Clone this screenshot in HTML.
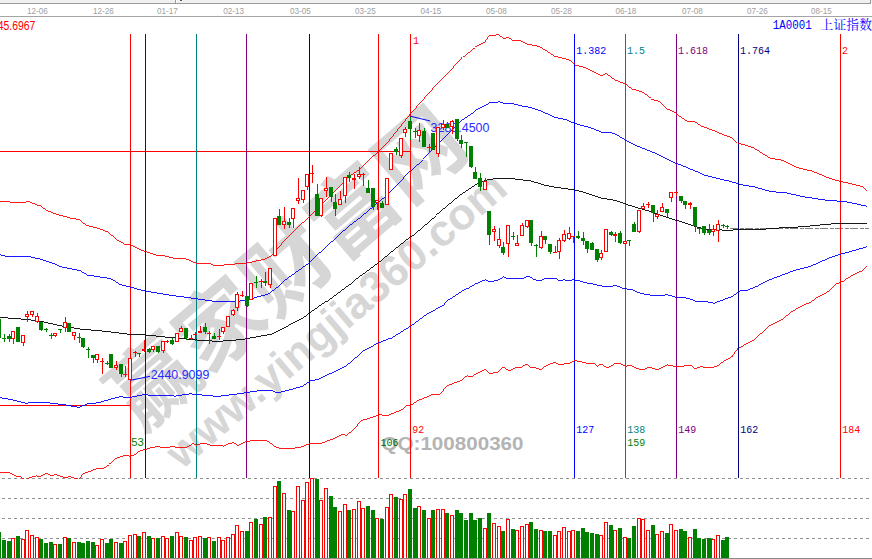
<!DOCTYPE html><html><head><meta charset="utf-8"><title>chart</title>
<style>html,body{margin:0;padding:0;background:#fff;}body{width:872px;height:559px;overflow:hidden;font-family:"Liberation Sans",sans-serif;}svg{display:block;position:absolute;left:0;top:0;}text{font-family:"Liberation Sans",sans-serif;} .m{font-family:"Liberation Mono",monospace;}</style></head><body>
<svg width="872" height="559" viewBox="0 0 872 559">
<rect x="0" y="0" width="872" height="559" fill="#fff"/>
<g fill="#d6d6d6" transform="translate(285.3,266.8) rotate(-40.5)"><text x="-218 -130.5 -43 44.5 132" y="32.68" font-size="86" font-weight="bold" fill="#d6d6d6" style="font-family:'Liberation Sans','Noto Sans CJK SC',sans-serif;">赢家财富网</text></g>
<text x="0" y="0" transform="translate(181.8,470.2) rotate(-40.3)" font-size="44" font-weight="bold" fill="#d6d6d6" textLength="430" lengthAdjust="spacingAndGlyphs">www.yingjia360.com</text>
<text x="381.5" y="449.7" font-size="18.6" font-weight="bold" fill="#b4b4b4" textLength="142" lengthAdjust="spacingAndGlyphs">QQ:100800360</text>
<g shape-rendering="crispEdges">
<rect x="0" y="0" width="872" height="3" fill="#f0f0f0"/>
<rect x="0" y="3" width="871" height="1" fill="#9a9a9a"/>
<rect x="870" y="0" width="1" height="3" fill="#9a9a9a"/>
<rect x="175" y="0" width="1" height="3" fill="#9a9a9a"/><rect x="176" y="0" width="1" height="3" fill="#fff"/>
<rect x="180" y="0" width="2" height="1" fill="#555"/>
<rect x="0" y="16" width="872" height="1" fill="#a4a4a4"/>
</g>
<text x="37.3" y="13.9" font-size="9.8" fill="#a0a0a0" text-anchor="middle" textLength="20.8" lengthAdjust="spacingAndGlyphs">12-06</text>
<text x="103.3" y="13.9" font-size="9.8" fill="#a0a0a0" text-anchor="middle" textLength="20.8" lengthAdjust="spacingAndGlyphs">12-26</text>
<text x="167.3" y="13.9" font-size="9.8" fill="#a0a0a0" text-anchor="middle" textLength="20.8" lengthAdjust="spacingAndGlyphs">01-17</text>
<text x="233.6" y="13.9" font-size="9.8" fill="#a0a0a0" text-anchor="middle" textLength="20.8" lengthAdjust="spacingAndGlyphs">02-13</text>
<text x="300.3" y="13.9" font-size="9.8" fill="#a0a0a0" text-anchor="middle" textLength="20.8" lengthAdjust="spacingAndGlyphs">03-05</text>
<text x="365.3" y="13.9" font-size="9.8" fill="#a0a0a0" text-anchor="middle" textLength="20.8" lengthAdjust="spacingAndGlyphs">03-25</text>
<text x="430.8" y="13.9" font-size="9.8" fill="#a0a0a0" text-anchor="middle" textLength="20.8" lengthAdjust="spacingAndGlyphs">04-15</text>
<text x="496.3" y="13.9" font-size="9.8" fill="#a0a0a0" text-anchor="middle" textLength="20.8" lengthAdjust="spacingAndGlyphs">05-08</text>
<text x="561.3" y="13.9" font-size="9.8" fill="#a0a0a0" text-anchor="middle" textLength="20.8" lengthAdjust="spacingAndGlyphs">05-28</text>
<text x="625.8" y="13.9" font-size="9.8" fill="#a0a0a0" text-anchor="middle" textLength="20.8" lengthAdjust="spacingAndGlyphs">06-18</text>
<text x="692.3" y="13.9" font-size="9.8" fill="#a0a0a0" text-anchor="middle" textLength="20.8" lengthAdjust="spacingAndGlyphs">07-08</text>
<text x="757.3" y="13.9" font-size="9.8" fill="#a0a0a0" text-anchor="middle" textLength="20.8" lengthAdjust="spacingAndGlyphs">07-26</text>
<text x="821.3" y="13.9" font-size="9.8" fill="#a0a0a0" text-anchor="middle" textLength="20.8" lengthAdjust="spacingAndGlyphs">08-15</text>
<text x="35.3" y="29.9" font-size="12" fill="#ff0000" text-anchor="end" textLength="37.5" lengthAdjust="spacingAndGlyphs">45.6967</text>
<g shape-rendering="crispEdges" fill="#8c8c8c">
<path d="M2 478.5H872" stroke="#909090" stroke-width="1" stroke-dasharray="3 3" fill="none"/>
<path d="M2 498.5H872" stroke="#909090" stroke-width="1" stroke-dasharray="3 3" fill="none"/>
<path d="M2 518.5H872" stroke="#909090" stroke-width="1" stroke-dasharray="3 3" fill="none"/>
<path d="M2 538.5H872" stroke="#909090" stroke-width="1" stroke-dasharray="3 3" fill="none"/>
<rect x="0" y="558" width="872" height="1" fill="#8a8a8a"/>
</g>
<g shape-rendering="crispEdges">
<rect x="0" y="151" width="411" height="1" fill="#ff0000"/>
<rect x="0" y="405" width="131" height="1" fill="#ff0000"/>
<path d="M730 228.5H869" stroke="#808080" stroke-width="1" stroke-dasharray="8 1.5 4 1.5" fill="none"/>
</g>
<g shape-rendering="crispEdges">
<rect x="130" y="34" width="1" height="444" fill="#ff0000"/>
<rect x="145" y="34" width="1" height="444" fill="#0000ff"/>
<rect x="196" y="34" width="1" height="444" fill="#008080"/>
<rect x="246" y="34" width="1" height="444" fill="#800080"/>
<rect x="309" y="34" width="1" height="444" fill="#000080"/>
<rect x="378" y="34" width="1" height="444" fill="#ff0000"/>
<rect x="410" y="34" width="1" height="444" fill="#ff0000"/>
<rect x="574" y="34" width="1" height="444" fill="#0000ff"/>
<rect x="625" y="34" width="1" height="444" fill="#008080"/>
<rect x="676" y="34" width="1" height="444" fill="#800080"/>
<rect x="738" y="34" width="1" height="444" fill="#000080"/>
<rect x="840" y="34" width="1" height="444" fill="#ff0000"/>
</g>
<defs><clipPath id="mainclip"><rect x="0" y="17" width="872" height="461.5"/></clipPath></defs>
<polyline transform="translate(0,0.6)" points="0.00,201.00 25.00,202.00 27.50,200.75 37.50,205.00 41.00,205.50 46.00,209.50 56.00,213.50 72.50,218.00 80.00,219.50 86.00,224.50 99.00,228.00 109.00,232.00 116.00,238.75 125.00,243.75 131.00,244.25 140.00,249.00 157.50,255.00 165.00,255.50 175.00,257.75 186.00,258.25 196.00,262.50 210.00,263.00 214.00,265.00 218.00,264.50 233.00,264.25 236.75,262.50 246.75,262.50 264.00,258.75 271.75,255.00 278.00,247.50 285.50,238.75 293.00,231.25 309.00,216.25 318.00,207.50 328.00,197.50 335.50,190.00 343.00,182.50 348.00,176.25 358.00,170.00 363.00,165.00 378.00,151.25 388.00,141.25 410.00,113.75 420.00,102.50 430.00,91.25 440.00,80.00 452.50,67.50 462.50,56.25 475.00,46.25 485.00,41.25 488.75,35.50 497.50,34.25 503.75,38.25 507.50,36.75 512.50,39.50 520.00,40.00 527.50,43.75 540.00,46.25 555.00,55.75 567.50,58.75 575.00,64.50 585.00,66.75 601.25,75.00 606.25,73.00 615.00,79.25 625.00,83.25 632.50,88.75 642.50,92.00 651.25,98.75 658.75,100.50 667.50,108.75 676.25,113.25 687.50,120.75 695.00,121.25 702.50,126.25 715.00,130.75 732.50,137.50 737.50,142.50 754.00,147.50 770.00,157.50 781.50,159.50 796.50,167.00 814.00,171.25 829.00,177.50 840.00,180.75 854.00,183.75 862.75,186.25 866.50,190.00" fill="none" stroke="#ff0000" stroke-width="0.9" shape-rendering="crispEdges"/>
<polyline transform="translate(0,0.6)" points="0.00,254.25 7.50,256.00 30.00,256.25 40.00,258.50 52.50,262.50 59.00,265.75 80.00,270.00 87.50,274.50 111.00,278.25 120.00,283.75 145.00,290.50 170.00,294.50 195.00,298.00 217.50,301.25 235.50,301.25 250.50,298.00 268.00,293.75 278.00,286.25 284.25,280.00 309.00,262.50 318.00,253.75 333.00,240.00 348.00,226.25 358.00,218.75 373.00,206.25 388.00,193.75 410.50,170.00 422.50,158.75 440.00,141.25 452.50,128.75 462.50,118.75 475.00,110.00 485.00,105.00 490.00,102.00 500.00,101.25 505.00,103.25 510.00,102.50 520.00,105.00 530.00,106.75 540.00,110.00 555.00,116.75 565.00,118.75 575.00,123.00 590.00,127.00 602.50,132.00 612.50,132.50 625.00,139.50 635.00,144.50 655.00,152.50 676.50,163.00 704.00,174.50 726.50,180.00 739.00,183.75 754.00,186.25 771.50,191.25 784.00,191.75 804.00,196.25 829.00,200.00 844.00,200.75 866.50,205.50" fill="none" stroke="#0000ff" stroke-width="0.9" shape-rendering="crispEdges"/>
<polyline transform="translate(0,0.6)" points="0.00,316.75 25.00,318.75 40.00,320.50 60.00,325.00 82.50,328.75 110.00,331.25 130.00,333.75 145.00,334.25 170.00,337.00 195.00,339.25 217.50,340.75 243.00,338.75 270.50,333.75 288.00,325.00 303.00,317.50 309.25,312.50 325.50,301.25 340.50,290.00 354.25,280.00 378.00,262.50 393.00,250.00 410.50,236.25 436.00,214.50 446.00,206.25 461.00,193.75 476.00,183.75 486.00,179.50 498.50,177.50 511.00,178.00 528.50,180.00 541.00,183.75 556.00,186.75 573.50,189.25 586.00,192.50 601.00,197.50 613.50,199.50 626.00,203.75 638.50,207.50 654.00,212.50 669.00,217.50 676.50,220.00 694.00,225.75 709.00,229.25 729.00,229.50 761.50,228.75 776.50,227.50 804.00,226.00 829.00,223.50 854.00,222.50 867.00,222.50" fill="none" stroke="#000000" stroke-width="0.9" shape-rendering="crispEdges"/>
<polyline transform="translate(0,0.6)" points="0.00,397.00 10.00,398.75 25.00,402.50 45.00,401.75 65.00,404.25 78.75,406.75 87.50,403.25 100.00,401.75 110.00,398.75 120.00,396.25 130.00,396.75 142.50,394.25 162.50,395.00 175.00,395.50 190.00,393.25 200.00,394.25 217.50,395.75 243.00,392.50 263.00,389.50 270.50,389.50 276.75,392.50 284.25,390.75 300.50,386.25 309.25,380.50 318.00,378.75 330.50,372.50 345.50,365.00 361.75,351.25 378.00,342.50 390.50,337.50 410.50,325.00 425.50,313.75 436.00,308.25 443.50,304.50 448.50,298.75 463.50,288.75 470.00,286.60 475.50,283.20 479.60,281.50 485.10,279.20 490.00,281.50 498.20,279.40 503.70,276.30 507.80,278.30 511.30,277.40 524.30,277.40 526.40,276.30 528.50,276.30 533.30,278.80 540.20,280.40 544.30,278.30 556.70,278.30 560.10,280.40 563.50,279.20 569.00,280.40 572.50,279.20 580.00,280.40 586.90,282.50 591.00,283.00 606.00,286.25 616.00,285.00 624.75,288.25 631.00,288.75 641.00,293.00 654.00,295.00 667.75,294.25 676.50,296.75 686.50,297.50 695.25,300.50 707.75,301.25 713.50,302.50 721.50,299.50 731.50,295.75 739.00,290.50 746.50,289.50 759.00,284.50 768.00,279.75 794.00,270.00 809.00,266.25 829.00,257.50 840.00,253.75 854.00,250.00 866.50,246.25" fill="none" stroke="#0000ff" stroke-width="0.9" shape-rendering="crispEdges"/>
<polyline transform="translate(0,0.6)" points="0.00,472.25 10.00,472.25 15.00,475.25 21.25,476.50 23.75,478.50 27.00,478.50 31.25,476.50 36.25,475.25 40.00,476.00 46.25,472.75 51.25,475.25 55.00,474.00 60.00,475.25 65.00,477.25 70.00,476.00 75.00,477.75 78.75,478.50 83.75,472.75 90.00,470.75 96.25,468.25 102.50,467.75 108.75,464.00 116.25,457.75 125.00,454.50 130.00,455.75 135.00,454.00 140.00,450.25 145.00,449.00 150.00,447.25 157.50,446.00 162.50,447.25 172.50,446.00 177.50,447.25 186.25,447.00 192.50,443.25 196.25,444.50 200.00,443.25 206.25,443.25 211.25,444.75 217.50,444.50 222.50,445.50 227.50,443.00 233.75,442.00 237.50,444.50 246.25,440.50 266.25,440.00 271.25,443.00 276.25,447.00 285.00,448.25 300.00,447.00 310.00,443.00 317.50,443.25 325.00,441.25 335.00,437.50 342.50,433.75 346.25,435.00 353.75,428.75 361.25,420.00 370.00,417.50 380.00,413.75 386.25,415.50 402.50,408.75 406.25,405.00 411.25,404.50 418.00,400.00 431.75,394.25 436.00,394.25 439.75,393.75 447.25,385.00 461.00,380.00 467.25,375.00 471.00,376.25 484.75,368.75 489.75,373.00 498.50,371.25 503.00,366.25 508.50,370.00 513.50,367.50 521.00,366.75 527.25,363.25 531.00,367.00 537.25,367.50 541.00,369.25 546.00,365.00 554.75,361.75 559.75,364.25 568.50,362.50 573.50,360.00 586.00,362.50 593.50,363.25 597.25,365.75 601.00,363.25 607.25,367.50 614.75,363.25 621.00,363.25 625.50,365.50 629.75,364.50 636.00,367.50 642.25,369.25 648.50,367.00 654.00,368.00 657.75,369.25 667.75,364.25 676.50,366.25 690.25,364.50 695.25,368.00 700.25,366.25 712.75,367.00 717.75,365.00 726.50,358.75 732.75,355.00 738.50,347.00 755.25,338.25 769.00,325.50 782.75,318.75 790.25,312.00 797.75,307.50 806.50,303.25 814.00,298.75 829.00,290.50 836.50,283.25 844.00,279.75 854.00,273.75 862.75,270.00 866.50,265.75" fill="none" stroke="#ff0000" stroke-width="0.9" shape-rendering="crispEdges" clip-path="url(#mainclip)"/>
<polyline points="410.4,116.2 430.2,121" fill="none" stroke="#0000ff" stroke-width="1"/>
<polyline points="130.5,380.3 150,376.3" fill="none" stroke="#0000ff" stroke-width="1"/>
<text x="430.6" y="131.8" font-size="12" fill="#2a2aff" textLength="58.8" lengthAdjust="spacingAndGlyphs">3288.4500</text>
<text x="150.7" y="378.9" font-size="12" fill="#2a2aff" textLength="58.6" lengthAdjust="spacingAndGlyphs">2440.9099</text>
<g shape-rendering="crispEdges">
<rect x="-1" y="319" width="1" height="19" fill="#008000"/>
<rect x="-3" y="319" width="4" height="19" fill="#008000"/>
<rect x="4" y="334" width="1" height="8" fill="#008000"/>
<rect x="2" y="338" width="4" height="1" fill="#008000"/>
<rect x="9" y="334" width="1" height="8" fill="#008000"/>
<rect x="7" y="336" width="4" height="3" fill="#008000"/>
<rect x="13" y="331" width="1" height="13" fill="#ff0000"/>
<rect x="11" y="331" width="4" height="8" fill="#ff0000"/>
<rect x="12" y="332" width="2" height="6" fill="#fff"/>
<rect x="18" y="327" width="1" height="15" fill="#008000"/>
<rect x="16" y="327" width="4" height="15" fill="#008000"/>
<rect x="23" y="335" width="1" height="11" fill="#ff0000"/>
<rect x="21" y="335" width="4" height="8" fill="#ff0000"/>
<rect x="22" y="336" width="2" height="6" fill="#fff"/>
<rect x="27" y="311" width="1" height="11" fill="#ff0000"/>
<rect x="25" y="314" width="4" height="3" fill="#ff0000"/>
<rect x="26" y="315" width="2" height="1" fill="#fff"/>
<rect x="32" y="311" width="1" height="6" fill="#ff0000"/>
<rect x="30" y="311" width="4" height="4" fill="#ff0000"/>
<rect x="31" y="312" width="2" height="2" fill="#fff"/>
<rect x="37" y="313" width="1" height="10" fill="#ff0000"/>
<rect x="35" y="316" width="4" height="6" fill="#ff0000"/>
<rect x="36" y="317" width="2" height="4" fill="#fff"/>
<rect x="41" y="322" width="1" height="9" fill="#008000"/>
<rect x="39" y="322" width="4" height="8" fill="#008000"/>
<rect x="46" y="328" width="1" height="4" fill="#008000"/>
<rect x="44" y="329" width="4" height="1" fill="#008000"/>
<rect x="51" y="333" width="1" height="6" fill="#008000"/>
<rect x="49" y="335" width="4" height="1" fill="#008000"/>
<rect x="55" y="333" width="1" height="4" fill="#ff0000"/>
<rect x="53" y="333" width="4" height="3" fill="#ff0000"/>
<rect x="54" y="334" width="2" height="1" fill="#fff"/>
<rect x="60" y="329" width="1" height="4" fill="#008000"/>
<rect x="58" y="329" width="4" height="1" fill="#008000"/>
<rect x="65" y="317" width="1" height="15" fill="#ff0000"/>
<rect x="63" y="322" width="4" height="6" fill="#ff0000"/>
<rect x="64" y="323" width="2" height="4" fill="#fff"/>
<rect x="69" y="323" width="1" height="9" fill="#008000"/>
<rect x="67" y="323" width="4" height="9" fill="#008000"/>
<rect x="74" y="332" width="1" height="8" fill="#ff0000"/>
<rect x="72" y="332" width="4" height="4" fill="#ff0000"/>
<rect x="73" y="333" width="2" height="2" fill="#fff"/>
<rect x="79" y="333" width="1" height="10" fill="#008000"/>
<rect x="77" y="337" width="4" height="1" fill="#008000"/>
<rect x="83" y="338" width="1" height="10" fill="#008000"/>
<rect x="81" y="338" width="4" height="9" fill="#008000"/>
<rect x="88" y="347" width="1" height="11" fill="#008000"/>
<rect x="86" y="349" width="4" height="1" fill="#008000"/>
<rect x="93" y="355" width="1" height="8" fill="#008000"/>
<rect x="91" y="355" width="4" height="3" fill="#008000"/>
<rect x="97" y="354" width="1" height="9" fill="#ff0000"/>
<rect x="95" y="354" width="4" height="6" fill="#ff0000"/>
<rect x="96" y="355" width="2" height="4" fill="#fff"/>
<rect x="102" y="358" width="1" height="16" fill="#ff0000"/>
<rect x="100" y="361" width="4" height="1" fill="#ff0000"/>
<rect x="107" y="361" width="1" height="4" fill="#008000"/>
<rect x="105" y="363" width="4" height="1" fill="#008000"/>
<rect x="111" y="354" width="1" height="14" fill="#008000"/>
<rect x="109" y="354" width="4" height="14" fill="#008000"/>
<rect x="116" y="361" width="1" height="9" fill="#ff0000"/>
<rect x="114" y="365" width="4" height="3" fill="#ff0000"/>
<rect x="115" y="366" width="2" height="1" fill="#fff"/>
<rect x="121" y="364" width="1" height="13" fill="#008000"/>
<rect x="119" y="364" width="4" height="10" fill="#008000"/>
<rect x="125" y="366" width="1" height="11" fill="#ff0000"/>
<rect x="123" y="374" width="4" height="1" fill="#ff0000"/>
<rect x="130" y="358" width="1" height="22" fill="#ff0000"/>
<rect x="128" y="358" width="4" height="22" fill="#ff0000"/>
<rect x="129" y="359" width="2" height="20" fill="#fff"/>
<rect x="135" y="351" width="1" height="6" fill="#ff0000"/>
<rect x="133" y="352" width="4" height="1" fill="#ff0000"/>
<rect x="139" y="353" width="1" height="4" fill="#008000"/>
<rect x="137" y="353" width="4" height="1" fill="#008000"/>
<rect x="144" y="340" width="1" height="12" fill="#ff0000"/>
<rect x="142" y="349" width="4" height="2" fill="#ff0000"/>
<rect x="149" y="348" width="1" height="5" fill="#008000"/>
<rect x="147" y="349" width="4" height="3" fill="#008000"/>
<rect x="153" y="346" width="1" height="6" fill="#ff0000"/>
<rect x="151" y="346" width="4" height="4" fill="#ff0000"/>
<rect x="152" y="347" width="2" height="2" fill="#fff"/>
<rect x="158" y="346" width="1" height="7" fill="#008000"/>
<rect x="156" y="346" width="4" height="6" fill="#008000"/>
<rect x="163" y="341" width="1" height="12" fill="#ff0000"/>
<rect x="161" y="341" width="4" height="10" fill="#ff0000"/>
<rect x="162" y="342" width="2" height="8" fill="#fff"/>
<rect x="167" y="340" width="1" height="3" fill="#ff0000"/>
<rect x="165" y="341" width="4" height="1" fill="#ff0000"/>
<rect x="172" y="338" width="1" height="7" fill="#008000"/>
<rect x="170" y="340" width="4" height="4" fill="#008000"/>
<rect x="177" y="333" width="1" height="9" fill="#ff0000"/>
<rect x="175" y="333" width="4" height="9" fill="#ff0000"/>
<rect x="176" y="334" width="2" height="7" fill="#fff"/>
<rect x="181" y="326" width="1" height="6" fill="#ff0000"/>
<rect x="179" y="328" width="4" height="4" fill="#ff0000"/>
<rect x="180" y="329" width="2" height="2" fill="#fff"/>
<rect x="186" y="328" width="1" height="12" fill="#008000"/>
<rect x="184" y="328" width="4" height="10" fill="#008000"/>
<rect x="191" y="335" width="1" height="5" fill="#ff0000"/>
<rect x="189" y="338" width="4" height="1" fill="#ff0000"/>
<rect x="195" y="332" width="1" height="9" fill="#ff0000"/>
<rect x="193" y="334" width="4" height="1" fill="#ff0000"/>
<rect x="200" y="326" width="1" height="7" fill="#ff0000"/>
<rect x="198" y="331" width="4" height="2" fill="#ff0000"/>
<rect x="205" y="323" width="1" height="11" fill="#008000"/>
<rect x="203" y="327" width="4" height="5" fill="#008000"/>
<rect x="209" y="331" width="1" height="13" fill="#ff0000"/>
<rect x="207" y="333" width="4" height="1" fill="#ff0000"/>
<rect x="214" y="333" width="1" height="6" fill="#008000"/>
<rect x="212" y="336" width="4" height="3" fill="#008000"/>
<rect x="219" y="329" width="1" height="11" fill="#ff0000"/>
<rect x="217" y="336" width="4" height="1" fill="#ff0000"/>
<rect x="223" y="327" width="1" height="7" fill="#ff0000"/>
<rect x="221" y="327" width="4" height="5" fill="#ff0000"/>
<rect x="222" y="328" width="2" height="3" fill="#fff"/>
<rect x="228" y="316" width="1" height="11" fill="#ff0000"/>
<rect x="226" y="316" width="4" height="11" fill="#ff0000"/>
<rect x="227" y="317" width="2" height="9" fill="#fff"/>
<rect x="233" y="309" width="1" height="7" fill="#ff0000"/>
<rect x="231" y="310" width="4" height="5" fill="#ff0000"/>
<rect x="232" y="311" width="2" height="3" fill="#fff"/>
<rect x="237" y="292" width="1" height="19" fill="#ff0000"/>
<rect x="235" y="294" width="4" height="14" fill="#ff0000"/>
<rect x="236" y="295" width="2" height="12" fill="#fff"/>
<rect x="242" y="291" width="1" height="6" fill="#ff0000"/>
<rect x="240" y="295" width="4" height="1" fill="#ff0000"/>
<rect x="247" y="296" width="1" height="11" fill="#008000"/>
<rect x="245" y="296" width="4" height="10" fill="#008000"/>
<rect x="251" y="283" width="1" height="17" fill="#ff0000"/>
<rect x="249" y="283" width="4" height="17" fill="#ff0000"/>
<rect x="250" y="284" width="2" height="15" fill="#fff"/>
<rect x="256" y="276" width="1" height="12" fill="#008000"/>
<rect x="254" y="282" width="4" height="1" fill="#008000"/>
<rect x="261" y="279" width="1" height="9" fill="#ff0000"/>
<rect x="259" y="281" width="4" height="1" fill="#ff0000"/>
<rect x="265" y="272" width="1" height="14" fill="#008000"/>
<rect x="263" y="281" width="4" height="2" fill="#008000"/>
<rect x="270" y="268" width="1" height="20" fill="#ff0000"/>
<rect x="268" y="268" width="4" height="17" fill="#ff0000"/>
<rect x="269" y="269" width="2" height="15" fill="#fff"/>
<rect x="275" y="218" width="1" height="38" fill="#ff0000"/>
<rect x="273" y="218" width="4" height="38" fill="#ff0000"/>
<rect x="274" y="219" width="2" height="36" fill="#fff"/>
<rect x="279" y="209" width="1" height="16" fill="#008000"/>
<rect x="277" y="216" width="4" height="9" fill="#008000"/>
<rect x="284" y="207" width="1" height="22" fill="#ff0000"/>
<rect x="282" y="221" width="4" height="4" fill="#ff0000"/>
<rect x="283" y="222" width="2" height="2" fill="#fff"/>
<rect x="289" y="218" width="1" height="10" fill="#008000"/>
<rect x="287" y="222" width="4" height="3" fill="#008000"/>
<rect x="293" y="208" width="1" height="20" fill="#ff0000"/>
<rect x="291" y="208" width="4" height="11" fill="#ff0000"/>
<rect x="292" y="209" width="2" height="9" fill="#fff"/>
<rect x="298" y="178" width="1" height="26" fill="#ff0000"/>
<rect x="296" y="198" width="4" height="3" fill="#ff0000"/>
<rect x="297" y="199" width="2" height="1" fill="#fff"/>
<rect x="303" y="190" width="1" height="13" fill="#ff0000"/>
<rect x="301" y="190" width="4" height="10" fill="#ff0000"/>
<rect x="302" y="191" width="2" height="8" fill="#fff"/>
<rect x="307" y="174" width="1" height="16" fill="#ff0000"/>
<rect x="305" y="174" width="4" height="13" fill="#ff0000"/>
<rect x="306" y="175" width="2" height="11" fill="#fff"/>
<rect x="312" y="165" width="1" height="18" fill="#ff0000"/>
<rect x="310" y="173" width="4" height="1" fill="#ff0000"/>
<rect x="317" y="184" width="1" height="32" fill="#008000"/>
<rect x="315" y="194" width="4" height="22" fill="#008000"/>
<rect x="321" y="198" width="1" height="19" fill="#ff0000"/>
<rect x="319" y="198" width="4" height="18" fill="#ff0000"/>
<rect x="320" y="199" width="2" height="16" fill="#fff"/>
<rect x="326" y="177" width="1" height="20" fill="#ff0000"/>
<rect x="324" y="188" width="4" height="3" fill="#ff0000"/>
<rect x="325" y="189" width="2" height="1" fill="#fff"/>
<rect x="331" y="187" width="1" height="15" fill="#008000"/>
<rect x="329" y="187" width="4" height="10" fill="#008000"/>
<rect x="335" y="194" width="1" height="22" fill="#008000"/>
<rect x="333" y="202" width="4" height="7" fill="#008000"/>
<rect x="340" y="191" width="1" height="14" fill="#ff0000"/>
<rect x="338" y="199" width="4" height="6" fill="#ff0000"/>
<rect x="339" y="200" width="2" height="4" fill="#fff"/>
<rect x="345" y="177" width="1" height="26" fill="#ff0000"/>
<rect x="343" y="177" width="4" height="19" fill="#ff0000"/>
<rect x="344" y="178" width="2" height="17" fill="#fff"/>
<rect x="349" y="172" width="1" height="10" fill="#008000"/>
<rect x="347" y="175" width="4" height="3" fill="#008000"/>
<rect x="354" y="174" width="1" height="15" fill="#ff0000"/>
<rect x="352" y="178" width="4" height="2" fill="#ff0000"/>
<rect x="359" y="167" width="1" height="12" fill="#ff0000"/>
<rect x="357" y="174" width="4" height="3" fill="#ff0000"/>
<rect x="358" y="175" width="2" height="1" fill="#fff"/>
<rect x="363" y="173" width="1" height="13" fill="#ff0000"/>
<rect x="361" y="174" width="4" height="1" fill="#ff0000"/>
<rect x="368" y="180" width="1" height="13" fill="#008000"/>
<rect x="366" y="188" width="4" height="5" fill="#008000"/>
<rect x="373" y="188" width="1" height="22" fill="#008000"/>
<rect x="371" y="188" width="4" height="19" fill="#008000"/>
<rect x="377" y="200" width="1" height="10" fill="#ff0000"/>
<rect x="375" y="200" width="4" height="3" fill="#ff0000"/>
<rect x="376" y="201" width="2" height="1" fill="#fff"/>
<rect x="382" y="201" width="1" height="7" fill="#008000"/>
<rect x="380" y="203" width="4" height="5" fill="#008000"/>
<rect x="387" y="178" width="1" height="27" fill="#ff0000"/>
<rect x="385" y="178" width="4" height="27" fill="#ff0000"/>
<rect x="386" y="179" width="2" height="25" fill="#fff"/>
<rect x="391" y="153" width="1" height="17" fill="#ff0000"/>
<rect x="389" y="153" width="4" height="17" fill="#ff0000"/>
<rect x="390" y="154" width="2" height="15" fill="#fff"/>
<rect x="396" y="147" width="1" height="8" fill="#008000"/>
<rect x="394" y="149" width="4" height="3" fill="#008000"/>
<rect x="401" y="138" width="1" height="20" fill="#ff0000"/>
<rect x="399" y="138" width="4" height="18" fill="#ff0000"/>
<rect x="400" y="139" width="2" height="16" fill="#fff"/>
<rect x="405" y="127" width="1" height="10" fill="#ff0000"/>
<rect x="403" y="129" width="4" height="4" fill="#ff0000"/>
<rect x="404" y="130" width="2" height="2" fill="#fff"/>
<rect x="410" y="117" width="1" height="23" fill="#008000"/>
<rect x="408" y="121" width="4" height="8" fill="#008000"/>
<rect x="415" y="128" width="1" height="10" fill="#008000"/>
<rect x="413" y="131" width="4" height="1" fill="#008000"/>
<rect x="419" y="123" width="1" height="19" fill="#ff0000"/>
<rect x="417" y="130" width="4" height="6" fill="#ff0000"/>
<rect x="418" y="131" width="2" height="4" fill="#fff"/>
<rect x="424" y="128" width="1" height="19" fill="#008000"/>
<rect x="422" y="131" width="4" height="16" fill="#008000"/>
<rect x="429" y="144" width="1" height="9" fill="#ff0000"/>
<rect x="427" y="147" width="4" height="1" fill="#ff0000"/>
<rect x="433" y="133" width="1" height="17" fill="#008000"/>
<rect x="431" y="133" width="4" height="17" fill="#008000"/>
<rect x="438" y="127" width="1" height="30" fill="#ff0000"/>
<rect x="436" y="127" width="4" height="27" fill="#ff0000"/>
<rect x="437" y="128" width="2" height="25" fill="#fff"/>
<rect x="443" y="120" width="1" height="10" fill="#ff0000"/>
<rect x="441" y="124" width="4" height="4" fill="#ff0000"/>
<rect x="442" y="125" width="2" height="2" fill="#fff"/>
<rect x="447" y="122" width="1" height="6" fill="#008000"/>
<rect x="445" y="124" width="4" height="4" fill="#008000"/>
<rect x="452" y="120" width="1" height="14" fill="#ff0000"/>
<rect x="450" y="121" width="4" height="6" fill="#ff0000"/>
<rect x="451" y="122" width="2" height="4" fill="#fff"/>
<rect x="457" y="119" width="1" height="22" fill="#008000"/>
<rect x="455" y="119" width="4" height="20" fill="#008000"/>
<rect x="461" y="135" width="1" height="13" fill="#008000"/>
<rect x="459" y="140" width="4" height="4" fill="#008000"/>
<rect x="466" y="142" width="1" height="15" fill="#008000"/>
<rect x="464" y="142" width="4" height="1" fill="#008000"/>
<rect x="471" y="146" width="1" height="22" fill="#008000"/>
<rect x="469" y="146" width="4" height="21" fill="#008000"/>
<rect x="475" y="167" width="1" height="12" fill="#008000"/>
<rect x="473" y="172" width="4" height="7" fill="#008000"/>
<rect x="480" y="173" width="1" height="18" fill="#008000"/>
<rect x="478" y="178" width="4" height="9" fill="#008000"/>
<rect x="485" y="178" width="1" height="12" fill="#ff0000"/>
<rect x="483" y="181" width="4" height="9" fill="#ff0000"/>
<rect x="484" y="182" width="2" height="7" fill="#fff"/>
<rect x="489" y="211" width="1" height="34" fill="#008000"/>
<rect x="487" y="211" width="4" height="24" fill="#008000"/>
<rect x="494" y="226" width="1" height="15" fill="#ff0000"/>
<rect x="492" y="229" width="4" height="3" fill="#ff0000"/>
<rect x="493" y="230" width="2" height="1" fill="#fff"/>
<rect x="499" y="228" width="1" height="20" fill="#ff0000"/>
<rect x="497" y="239" width="4" height="7" fill="#ff0000"/>
<rect x="498" y="240" width="2" height="5" fill="#fff"/>
<rect x="503" y="242" width="1" height="13" fill="#008000"/>
<rect x="501" y="247" width="4" height="6" fill="#008000"/>
<rect x="508" y="225" width="1" height="32" fill="#ff0000"/>
<rect x="506" y="225" width="4" height="19" fill="#ff0000"/>
<rect x="507" y="226" width="2" height="17" fill="#fff"/>
<rect x="513" y="232" width="1" height="8" fill="#008000"/>
<rect x="511" y="236" width="4" height="1" fill="#008000"/>
<rect x="517" y="235" width="1" height="11" fill="#ff0000"/>
<rect x="515" y="243" width="4" height="3" fill="#ff0000"/>
<rect x="516" y="244" width="2" height="1" fill="#fff"/>
<rect x="522" y="223" width="1" height="13" fill="#ff0000"/>
<rect x="520" y="225" width="4" height="11" fill="#ff0000"/>
<rect x="521" y="226" width="2" height="9" fill="#fff"/>
<rect x="527" y="220" width="1" height="8" fill="#ff0000"/>
<rect x="525" y="220" width="4" height="7" fill="#ff0000"/>
<rect x="526" y="221" width="2" height="5" fill="#fff"/>
<rect x="531" y="220" width="1" height="26" fill="#008000"/>
<rect x="529" y="220" width="4" height="23" fill="#008000"/>
<rect x="536" y="244" width="1" height="13" fill="#008000"/>
<rect x="534" y="245" width="4" height="1" fill="#008000"/>
<rect x="541" y="231" width="1" height="18" fill="#ff0000"/>
<rect x="539" y="236" width="4" height="12" fill="#ff0000"/>
<rect x="540" y="237" width="2" height="10" fill="#fff"/>
<rect x="545" y="236" width="1" height="8" fill="#008000"/>
<rect x="543" y="236" width="4" height="4" fill="#008000"/>
<rect x="550" y="244" width="1" height="10" fill="#008000"/>
<rect x="548" y="244" width="4" height="8" fill="#008000"/>
<rect x="555" y="246" width="1" height="7" fill="#ff0000"/>
<rect x="553" y="252" width="4" height="1" fill="#ff0000"/>
<rect x="559" y="238" width="1" height="21" fill="#ff0000"/>
<rect x="557" y="240" width="4" height="12" fill="#ff0000"/>
<rect x="558" y="241" width="2" height="10" fill="#fff"/>
<rect x="564" y="230" width="1" height="12" fill="#ff0000"/>
<rect x="562" y="234" width="4" height="7" fill="#ff0000"/>
<rect x="563" y="235" width="2" height="5" fill="#fff"/>
<rect x="569" y="227" width="1" height="13" fill="#ff0000"/>
<rect x="567" y="233" width="4" height="6" fill="#ff0000"/>
<rect x="568" y="234" width="2" height="4" fill="#fff"/>
<rect x="573" y="236" width="1" height="7" fill="#ff0000"/>
<rect x="571" y="236" width="4" height="1" fill="#ff0000"/>
<rect x="578" y="231" width="1" height="8" fill="#008000"/>
<rect x="576" y="236" width="4" height="2" fill="#008000"/>
<rect x="583" y="232" width="1" height="13" fill="#008000"/>
<rect x="581" y="238" width="4" height="3" fill="#008000"/>
<rect x="587" y="241" width="1" height="12" fill="#008000"/>
<rect x="585" y="241" width="4" height="8" fill="#008000"/>
<rect x="592" y="242" width="1" height="8" fill="#008000"/>
<rect x="590" y="243" width="4" height="7" fill="#008000"/>
<rect x="597" y="249" width="1" height="13" fill="#008000"/>
<rect x="595" y="249" width="4" height="11" fill="#008000"/>
<rect x="601" y="250" width="1" height="10" fill="#ff0000"/>
<rect x="599" y="253" width="4" height="5" fill="#ff0000"/>
<rect x="600" y="254" width="2" height="3" fill="#fff"/>
<rect x="606" y="229" width="1" height="23" fill="#ff0000"/>
<rect x="604" y="229" width="4" height="23" fill="#ff0000"/>
<rect x="605" y="230" width="2" height="21" fill="#fff"/>
<rect x="611" y="231" width="1" height="5" fill="#008000"/>
<rect x="609" y="232" width="4" height="3" fill="#008000"/>
<rect x="615" y="232" width="1" height="10" fill="#ff0000"/>
<rect x="613" y="234" width="4" height="2" fill="#ff0000"/>
<rect x="620" y="231" width="1" height="13" fill="#008000"/>
<rect x="618" y="233" width="4" height="10" fill="#008000"/>
<rect x="625" y="237" width="1" height="7" fill="#ff0000"/>
<rect x="623" y="241" width="4" height="3" fill="#ff0000"/>
<rect x="624" y="242" width="2" height="1" fill="#fff"/>
<rect x="629" y="240" width="1" height="6" fill="#008000"/>
<rect x="627" y="240" width="4" height="1" fill="#008000"/>
<rect x="634" y="222" width="1" height="10" fill="#008000"/>
<rect x="632" y="224" width="4" height="8" fill="#008000"/>
<rect x="639" y="210" width="1" height="23" fill="#ff0000"/>
<rect x="637" y="210" width="4" height="22" fill="#ff0000"/>
<rect x="638" y="211" width="2" height="20" fill="#fff"/>
<rect x="643" y="203" width="1" height="6" fill="#ff0000"/>
<rect x="641" y="206" width="4" height="3" fill="#ff0000"/>
<rect x="642" y="207" width="2" height="1" fill="#fff"/>
<rect x="648" y="202" width="1" height="6" fill="#ff0000"/>
<rect x="646" y="204" width="4" height="1" fill="#ff0000"/>
<rect x="653" y="205" width="1" height="17" fill="#008000"/>
<rect x="651" y="205" width="4" height="8" fill="#008000"/>
<rect x="657" y="210" width="1" height="9" fill="#ff0000"/>
<rect x="655" y="214" width="4" height="3" fill="#ff0000"/>
<rect x="656" y="215" width="2" height="1" fill="#fff"/>
<rect x="662" y="203" width="1" height="9" fill="#ff0000"/>
<rect x="660" y="207" width="4" height="5" fill="#ff0000"/>
<rect x="661" y="208" width="2" height="3" fill="#fff"/>
<rect x="667" y="209" width="1" height="8" fill="#008000"/>
<rect x="665" y="209" width="4" height="4" fill="#008000"/>
<rect x="671" y="192" width="1" height="10" fill="#ff0000"/>
<rect x="669" y="192" width="4" height="6" fill="#ff0000"/>
<rect x="670" y="193" width="2" height="4" fill="#fff"/>
<rect x="676" y="191" width="1" height="5" fill="#ff0000"/>
<rect x="674" y="192" width="4" height="1" fill="#ff0000"/>
<rect x="681" y="196" width="1" height="7" fill="#008000"/>
<rect x="679" y="196" width="4" height="5" fill="#008000"/>
<rect x="685" y="201" width="1" height="8" fill="#008000"/>
<rect x="683" y="201" width="4" height="4" fill="#008000"/>
<rect x="690" y="202" width="1" height="7" fill="#ff0000"/>
<rect x="688" y="203" width="4" height="2" fill="#ff0000"/>
<rect x="695" y="207" width="1" height="25" fill="#008000"/>
<rect x="693" y="207" width="4" height="19" fill="#008000"/>
<rect x="699" y="228" width="1" height="6" fill="#008000"/>
<rect x="697" y="228" width="4" height="1" fill="#008000"/>
<rect x="704" y="226" width="1" height="9" fill="#008000"/>
<rect x="702" y="226" width="4" height="7" fill="#008000"/>
<rect x="709" y="224" width="1" height="11" fill="#008000"/>
<rect x="707" y="230" width="4" height="3" fill="#008000"/>
<rect x="713" y="225" width="1" height="11" fill="#ff0000"/>
<rect x="711" y="229" width="4" height="3" fill="#ff0000"/>
<rect x="712" y="230" width="2" height="1" fill="#fff"/>
<rect x="718" y="220" width="1" height="22" fill="#ff0000"/>
<rect x="716" y="224" width="4" height="7" fill="#ff0000"/>
<rect x="717" y="225" width="2" height="5" fill="#fff"/>
<rect x="723" y="224" width="1" height="4" fill="#008000"/>
<rect x="721" y="225" width="4" height="1" fill="#008000"/>
<rect x="727" y="225" width="1" height="4" fill="#008000"/>
<rect x="725" y="226" width="4" height="1" fill="#008000"/>
</g>
<g shape-rendering="crispEdges">
<rect x="-3" y="532" width="4" height="26" fill="#008000"/>
<rect x="2" y="540" width="4" height="18" fill="#008000"/>
<rect x="7" y="541" width="4" height="17" fill="#008000"/>
<rect x="11" y="538" width="4" height="20" fill="#ff0000"/>
<rect x="12" y="539" width="2" height="19" fill="#fff"/>
<rect x="16" y="536" width="4" height="22" fill="#008000"/>
<rect x="21" y="539" width="4" height="19" fill="#ff0000"/>
<rect x="22" y="540" width="2" height="18" fill="#fff"/>
<rect x="25" y="530" width="4" height="28" fill="#ff0000"/>
<rect x="26" y="531" width="2" height="27" fill="#fff"/>
<rect x="30" y="535" width="4" height="23" fill="#ff0000"/>
<rect x="31" y="536" width="2" height="22" fill="#fff"/>
<rect x="35" y="537" width="4" height="21" fill="#ff0000"/>
<rect x="36" y="538" width="2" height="20" fill="#fff"/>
<rect x="39" y="539" width="4" height="19" fill="#008000"/>
<rect x="44" y="543" width="4" height="15" fill="#008000"/>
<rect x="49" y="542" width="4" height="16" fill="#008000"/>
<rect x="53" y="544" width="4" height="14" fill="#ff0000"/>
<rect x="54" y="545" width="2" height="13" fill="#fff"/>
<rect x="58" y="544" width="4" height="14" fill="#008000"/>
<rect x="63" y="537" width="4" height="21" fill="#ff0000"/>
<rect x="64" y="538" width="2" height="20" fill="#fff"/>
<rect x="67" y="538" width="4" height="20" fill="#008000"/>
<rect x="72" y="542" width="4" height="16" fill="#ff0000"/>
<rect x="73" y="543" width="2" height="15" fill="#fff"/>
<rect x="77" y="542" width="4" height="16" fill="#008000"/>
<rect x="81" y="543" width="4" height="15" fill="#008000"/>
<rect x="86" y="541" width="4" height="17" fill="#008000"/>
<rect x="91" y="542" width="4" height="16" fill="#008000"/>
<rect x="95" y="545" width="4" height="13" fill="#ff0000"/>
<rect x="96" y="546" width="2" height="12" fill="#fff"/>
<rect x="100" y="539" width="4" height="19" fill="#ff0000"/>
<rect x="101" y="540" width="2" height="18" fill="#fff"/>
<rect x="105" y="543" width="4" height="15" fill="#008000"/>
<rect x="109" y="539" width="4" height="19" fill="#008000"/>
<rect x="114" y="542" width="4" height="16" fill="#ff0000"/>
<rect x="115" y="543" width="2" height="15" fill="#fff"/>
<rect x="119" y="543" width="4" height="15" fill="#008000"/>
<rect x="123" y="541" width="4" height="17" fill="#ff0000"/>
<rect x="124" y="542" width="2" height="16" fill="#fff"/>
<rect x="128" y="535" width="4" height="23" fill="#ff0000"/>
<rect x="129" y="536" width="2" height="22" fill="#fff"/>
<rect x="133" y="534" width="4" height="24" fill="#ff0000"/>
<rect x="134" y="535" width="2" height="23" fill="#fff"/>
<rect x="137" y="536" width="4" height="22" fill="#008000"/>
<rect x="142" y="532" width="4" height="26" fill="#ff0000"/>
<rect x="143" y="533" width="2" height="25" fill="#fff"/>
<rect x="147" y="536" width="4" height="22" fill="#008000"/>
<rect x="151" y="538" width="4" height="20" fill="#ff0000"/>
<rect x="152" y="539" width="2" height="19" fill="#fff"/>
<rect x="156" y="538" width="4" height="20" fill="#008000"/>
<rect x="161" y="536" width="4" height="22" fill="#ff0000"/>
<rect x="162" y="537" width="2" height="21" fill="#fff"/>
<rect x="165" y="538" width="4" height="20" fill="#ff0000"/>
<rect x="166" y="539" width="2" height="19" fill="#fff"/>
<rect x="170" y="536" width="4" height="22" fill="#008000"/>
<rect x="175" y="532" width="4" height="26" fill="#ff0000"/>
<rect x="176" y="533" width="2" height="25" fill="#fff"/>
<rect x="179" y="536" width="4" height="22" fill="#ff0000"/>
<rect x="180" y="537" width="2" height="21" fill="#fff"/>
<rect x="184" y="537" width="4" height="21" fill="#008000"/>
<rect x="189" y="540" width="4" height="18" fill="#ff0000"/>
<rect x="190" y="541" width="2" height="17" fill="#fff"/>
<rect x="193" y="537" width="4" height="21" fill="#ff0000"/>
<rect x="194" y="538" width="2" height="20" fill="#fff"/>
<rect x="198" y="536" width="4" height="22" fill="#ff0000"/>
<rect x="199" y="537" width="2" height="21" fill="#fff"/>
<rect x="203" y="538" width="4" height="20" fill="#008000"/>
<rect x="207" y="537" width="4" height="21" fill="#ff0000"/>
<rect x="208" y="538" width="2" height="20" fill="#fff"/>
<rect x="212" y="541" width="4" height="17" fill="#008000"/>
<rect x="217" y="537" width="4" height="21" fill="#ff0000"/>
<rect x="218" y="538" width="2" height="20" fill="#fff"/>
<rect x="221" y="540" width="4" height="18" fill="#ff0000"/>
<rect x="222" y="541" width="2" height="17" fill="#fff"/>
<rect x="226" y="537" width="4" height="21" fill="#ff0000"/>
<rect x="227" y="538" width="2" height="20" fill="#fff"/>
<rect x="231" y="534" width="4" height="24" fill="#ff0000"/>
<rect x="232" y="535" width="2" height="23" fill="#fff"/>
<rect x="235" y="525" width="4" height="33" fill="#ff0000"/>
<rect x="236" y="526" width="2" height="32" fill="#fff"/>
<rect x="240" y="531" width="4" height="27" fill="#ff0000"/>
<rect x="241" y="532" width="2" height="26" fill="#fff"/>
<rect x="245" y="531" width="4" height="27" fill="#008000"/>
<rect x="249" y="522" width="4" height="36" fill="#ff0000"/>
<rect x="250" y="523" width="2" height="35" fill="#fff"/>
<rect x="254" y="519" width="4" height="39" fill="#008000"/>
<rect x="259" y="524" width="4" height="34" fill="#ff0000"/>
<rect x="260" y="525" width="2" height="33" fill="#fff"/>
<rect x="263" y="517" width="4" height="41" fill="#008000"/>
<rect x="268" y="517" width="4" height="41" fill="#ff0000"/>
<rect x="269" y="518" width="2" height="40" fill="#fff"/>
<rect x="273" y="486" width="4" height="72" fill="#ff0000"/>
<rect x="274" y="487" width="2" height="71" fill="#fff"/>
<rect x="277" y="481" width="4" height="77" fill="#008000"/>
<rect x="282" y="493" width="4" height="65" fill="#ff0000"/>
<rect x="283" y="494" width="2" height="64" fill="#fff"/>
<rect x="287" y="510" width="4" height="48" fill="#008000"/>
<rect x="291" y="511" width="4" height="47" fill="#ff0000"/>
<rect x="292" y="512" width="2" height="46" fill="#fff"/>
<rect x="296" y="486" width="4" height="72" fill="#ff0000"/>
<rect x="297" y="487" width="2" height="71" fill="#fff"/>
<rect x="301" y="500" width="4" height="58" fill="#ff0000"/>
<rect x="302" y="501" width="2" height="57" fill="#fff"/>
<rect x="305" y="482" width="4" height="76" fill="#ff0000"/>
<rect x="306" y="483" width="2" height="75" fill="#fff"/>
<rect x="310" y="478" width="4" height="80" fill="#ff0000"/>
<rect x="311" y="479" width="2" height="79" fill="#fff"/>
<rect x="315" y="479" width="4" height="79" fill="#008000"/>
<rect x="319" y="500" width="4" height="58" fill="#ff0000"/>
<rect x="320" y="501" width="2" height="57" fill="#fff"/>
<rect x="324" y="488" width="4" height="70" fill="#ff0000"/>
<rect x="325" y="489" width="2" height="69" fill="#fff"/>
<rect x="329" y="496" width="4" height="62" fill="#008000"/>
<rect x="333" y="507" width="4" height="51" fill="#008000"/>
<rect x="338" y="511" width="4" height="47" fill="#ff0000"/>
<rect x="339" y="512" width="2" height="46" fill="#fff"/>
<rect x="343" y="504" width="4" height="54" fill="#ff0000"/>
<rect x="344" y="505" width="2" height="53" fill="#fff"/>
<rect x="347" y="510" width="4" height="48" fill="#008000"/>
<rect x="352" y="509" width="4" height="49" fill="#ff0000"/>
<rect x="353" y="510" width="2" height="48" fill="#fff"/>
<rect x="357" y="501" width="4" height="57" fill="#ff0000"/>
<rect x="358" y="502" width="2" height="56" fill="#fff"/>
<rect x="361" y="508" width="4" height="50" fill="#ff0000"/>
<rect x="362" y="509" width="2" height="49" fill="#fff"/>
<rect x="366" y="506" width="4" height="52" fill="#008000"/>
<rect x="371" y="510" width="4" height="48" fill="#008000"/>
<rect x="375" y="518" width="4" height="40" fill="#ff0000"/>
<rect x="376" y="519" width="2" height="39" fill="#fff"/>
<rect x="380" y="519" width="4" height="39" fill="#008000"/>
<rect x="385" y="507" width="4" height="51" fill="#ff0000"/>
<rect x="386" y="508" width="2" height="50" fill="#fff"/>
<rect x="389" y="494" width="4" height="64" fill="#ff0000"/>
<rect x="390" y="495" width="2" height="63" fill="#fff"/>
<rect x="394" y="497" width="4" height="61" fill="#008000"/>
<rect x="399" y="499" width="4" height="59" fill="#ff0000"/>
<rect x="400" y="500" width="2" height="58" fill="#fff"/>
<rect x="403" y="494" width="4" height="64" fill="#ff0000"/>
<rect x="404" y="495" width="2" height="63" fill="#fff"/>
<rect x="408" y="489" width="4" height="69" fill="#008000"/>
<rect x="413" y="508" width="4" height="50" fill="#008000"/>
<rect x="417" y="506" width="4" height="52" fill="#ff0000"/>
<rect x="418" y="507" width="2" height="51" fill="#fff"/>
<rect x="422" y="510" width="4" height="48" fill="#008000"/>
<rect x="427" y="518" width="4" height="40" fill="#ff0000"/>
<rect x="428" y="519" width="2" height="39" fill="#fff"/>
<rect x="431" y="510" width="4" height="48" fill="#008000"/>
<rect x="436" y="509" width="4" height="49" fill="#ff0000"/>
<rect x="437" y="510" width="2" height="48" fill="#fff"/>
<rect x="441" y="509" width="4" height="49" fill="#ff0000"/>
<rect x="442" y="510" width="2" height="48" fill="#fff"/>
<rect x="445" y="513" width="4" height="45" fill="#008000"/>
<rect x="450" y="515" width="4" height="43" fill="#ff0000"/>
<rect x="451" y="516" width="2" height="42" fill="#fff"/>
<rect x="455" y="510" width="4" height="48" fill="#008000"/>
<rect x="459" y="513" width="4" height="45" fill="#008000"/>
<rect x="464" y="520" width="4" height="38" fill="#008000"/>
<rect x="469" y="513" width="4" height="45" fill="#008000"/>
<rect x="473" y="520" width="4" height="38" fill="#008000"/>
<rect x="478" y="518" width="4" height="40" fill="#008000"/>
<rect x="483" y="528" width="4" height="30" fill="#ff0000"/>
<rect x="484" y="529" width="2" height="29" fill="#fff"/>
<rect x="487" y="513" width="4" height="45" fill="#008000"/>
<rect x="492" y="523" width="4" height="35" fill="#ff0000"/>
<rect x="493" y="524" width="2" height="34" fill="#fff"/>
<rect x="497" y="526" width="4" height="32" fill="#ff0000"/>
<rect x="498" y="527" width="2" height="31" fill="#fff"/>
<rect x="501" y="531" width="4" height="27" fill="#008000"/>
<rect x="506" y="519" width="4" height="39" fill="#ff0000"/>
<rect x="507" y="520" width="2" height="38" fill="#fff"/>
<rect x="511" y="529" width="4" height="29" fill="#008000"/>
<rect x="515" y="530" width="4" height="28" fill="#ff0000"/>
<rect x="516" y="531" width="2" height="27" fill="#fff"/>
<rect x="520" y="526" width="4" height="32" fill="#ff0000"/>
<rect x="521" y="527" width="2" height="31" fill="#fff"/>
<rect x="525" y="524" width="4" height="34" fill="#ff0000"/>
<rect x="526" y="525" width="2" height="33" fill="#fff"/>
<rect x="529" y="522" width="4" height="36" fill="#008000"/>
<rect x="534" y="529" width="4" height="29" fill="#008000"/>
<rect x="539" y="530" width="4" height="28" fill="#ff0000"/>
<rect x="540" y="531" width="2" height="27" fill="#fff"/>
<rect x="543" y="531" width="4" height="27" fill="#008000"/>
<rect x="548" y="531" width="4" height="27" fill="#008000"/>
<rect x="553" y="535" width="4" height="23" fill="#ff0000"/>
<rect x="554" y="536" width="2" height="22" fill="#fff"/>
<rect x="557" y="531" width="4" height="27" fill="#ff0000"/>
<rect x="558" y="532" width="2" height="26" fill="#fff"/>
<rect x="562" y="527" width="4" height="31" fill="#ff0000"/>
<rect x="563" y="528" width="2" height="30" fill="#fff"/>
<rect x="567" y="531" width="4" height="27" fill="#ff0000"/>
<rect x="568" y="532" width="2" height="26" fill="#fff"/>
<rect x="571" y="530" width="4" height="28" fill="#ff0000"/>
<rect x="572" y="531" width="2" height="27" fill="#fff"/>
<rect x="576" y="531" width="4" height="27" fill="#008000"/>
<rect x="581" y="528" width="4" height="30" fill="#008000"/>
<rect x="585" y="532" width="4" height="26" fill="#008000"/>
<rect x="590" y="533" width="4" height="25" fill="#008000"/>
<rect x="595" y="534" width="4" height="24" fill="#008000"/>
<rect x="599" y="535" width="4" height="23" fill="#ff0000"/>
<rect x="600" y="536" width="2" height="22" fill="#fff"/>
<rect x="604" y="522" width="4" height="36" fill="#ff0000"/>
<rect x="605" y="523" width="2" height="35" fill="#fff"/>
<rect x="609" y="525" width="4" height="33" fill="#008000"/>
<rect x="613" y="530" width="4" height="28" fill="#ff0000"/>
<rect x="614" y="531" width="2" height="27" fill="#fff"/>
<rect x="618" y="528" width="4" height="30" fill="#008000"/>
<rect x="623" y="537" width="4" height="21" fill="#ff0000"/>
<rect x="624" y="538" width="2" height="20" fill="#fff"/>
<rect x="627" y="538" width="4" height="20" fill="#008000"/>
<rect x="632" y="526" width="4" height="32" fill="#008000"/>
<rect x="637" y="518" width="4" height="40" fill="#ff0000"/>
<rect x="638" y="519" width="2" height="39" fill="#fff"/>
<rect x="641" y="519" width="4" height="39" fill="#ff0000"/>
<rect x="642" y="520" width="2" height="38" fill="#fff"/>
<rect x="646" y="530" width="4" height="28" fill="#ff0000"/>
<rect x="647" y="531" width="2" height="27" fill="#fff"/>
<rect x="651" y="525" width="4" height="33" fill="#008000"/>
<rect x="655" y="534" width="4" height="24" fill="#ff0000"/>
<rect x="656" y="535" width="2" height="23" fill="#fff"/>
<rect x="660" y="531" width="4" height="27" fill="#ff0000"/>
<rect x="661" y="532" width="2" height="26" fill="#fff"/>
<rect x="665" y="533" width="4" height="25" fill="#008000"/>
<rect x="669" y="524" width="4" height="34" fill="#ff0000"/>
<rect x="670" y="525" width="2" height="33" fill="#fff"/>
<rect x="674" y="530" width="4" height="28" fill="#ff0000"/>
<rect x="675" y="531" width="2" height="27" fill="#fff"/>
<rect x="679" y="529" width="4" height="29" fill="#008000"/>
<rect x="683" y="531" width="4" height="27" fill="#008000"/>
<rect x="688" y="537" width="4" height="21" fill="#ff0000"/>
<rect x="689" y="538" width="2" height="20" fill="#fff"/>
<rect x="693" y="529" width="4" height="29" fill="#008000"/>
<rect x="697" y="538" width="4" height="20" fill="#008000"/>
<rect x="702" y="539" width="4" height="19" fill="#008000"/>
<rect x="707" y="538" width="4" height="20" fill="#008000"/>
<rect x="711" y="539" width="4" height="19" fill="#ff0000"/>
<rect x="712" y="540" width="2" height="18" fill="#fff"/>
<rect x="716" y="535" width="4" height="23" fill="#ff0000"/>
<rect x="717" y="536" width="2" height="22" fill="#fff"/>
<rect x="721" y="540" width="4" height="18" fill="#008000"/>
<rect x="725" y="537" width="4" height="21" fill="#008000"/>
</g>
<text class="m" transform="translate(413,43.5) scale(0.862,1)" font-size="11.6" fill="#ff0000">1</text>
<text class="m" transform="translate(576.3,53.8) scale(0.862,1)" font-size="11.6" fill="#0000ff">1.382</text>
<text class="m" transform="translate(627,53.8) scale(0.862,1)" font-size="11.6" fill="#008080">1.5</text>
<text class="m" transform="translate(678,53.8) scale(0.862,1)" font-size="11.6" fill="#800080">1.618</text>
<text class="m" transform="translate(740,53.8) scale(0.862,1)" font-size="11.6" fill="#000080">1.764</text>
<text class="m" transform="translate(842,53.8) scale(0.862,1)" font-size="11.6" fill="#ff0000">2</text>
<text class="m" transform="translate(412.3,432.8) scale(0.862,1)" font-size="11.6" fill="#ff0000">92</text>
<text class="m" transform="translate(576.3,432.8) scale(0.862,1)" font-size="11.6" fill="#0000ff">127</text>
<text class="m" transform="translate(627.3,432.8) scale(0.862,1)" font-size="11.6" fill="#008080">138</text>
<text class="m" transform="translate(627.3,445.8) scale(0.862,1)" font-size="11.6" fill="#008000">159</text>
<text class="m" transform="translate(678.3,432.8) scale(0.862,1)" font-size="11.6" fill="#800080">149</text>
<text class="m" transform="translate(740.3,432.8) scale(0.862,1)" font-size="11.6" fill="#000080">162</text>
<text class="m" transform="translate(842.3,432.8) scale(0.862,1)" font-size="11.6" fill="#ff0000">184</text>
<text class="m" transform="translate(380.5,445.8) scale(0.862,1)" font-size="11.6" fill="#006400">106</text>
<text x="131.2" y="445.8" font-size="11.3" fill="#008000">53</text>
<text class="m" transform="translate(772.7,28.9) scale(0.833,1)" font-size="13" fill="#0000ff">1A0001</text>
<text x="820.6 833.45 846.3 859.15" y="29.15" font-size="12.7" fill="#0000ff" style="font-family:'Liberation Serif','Noto Serif CJK SC',serif;">上证指数</text>
</svg></body></html>
